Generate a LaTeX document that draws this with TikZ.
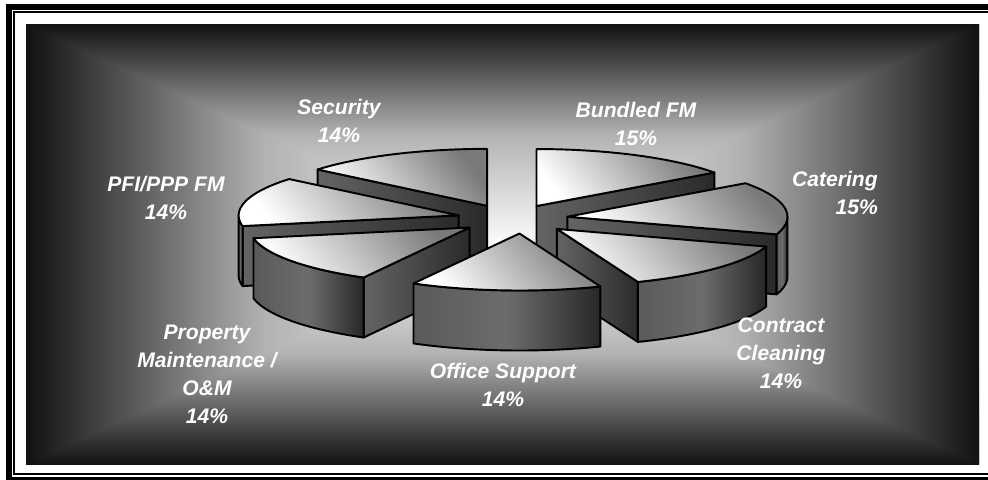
\documentclass[tikz,border=0pt]{standalone}
\usepackage{fontspec}
\setmainfont{Liberation Sans}
\definecolor{bgedge}{HTML}{111111}
\definecolor{bgmid}{HTML}{B2B2B2}
\definecolor{bgcentre}{HTML}{FCFCFC}
\definecolor{topdark}{HTML}{7A7A7A}
\definecolor{walllight}{HTML}{6C6C6C}
\definecolor{wallmid}{HTML}{5A5A5A}
\definecolor{walldark}{HTML}{272727}
\definecolor{sidelight}{HTML}{646464}
\definecolor{sidedark}{HTML}{2A2A2A}

% pie geometry (pixel units, y pointing down)
\def\pcx{511}\def\pcy{219}
\def\pra{220}\def\prb{57}
\def\pex{0.255}\def\ph{60}

% one exploded slice: start and end angle (clockwise from 12 o'clock),
% name of its corner, sideways nudge of the slice
\newcommand\pieslice[4]{%
  \pgfmathsetmacro\pmid{(#1+#2)/2}%
  \pgfmathsetmacro\pox{\pcx+#4+\pex*\pra*sin(\pmid)}%
  \pgfmathsetmacro\poy{\pcy-\pex*\prb*cos(\pmid)}%
  \coordinate (#3) at (\pox,\poy);
  % cut face at the start angle
  \pgfmathtruncatemacro\pvis{sin(#1)<-0.001}%
  \ifnum\pvis=1
    \shade[sideface] (#3) -- ({\pox+\pra*sin(#1)},{\poy-\prb*cos(#1)})
      -- ++(0,\ph) -- (\pox,{\poy+\ph}) -- cycle;
  \fi
  % cut face at the end angle
  \pgfmathtruncatemacro\pvis{sin(#2)>0.001}%
  \ifnum\pvis=1
    \shade[sideface] (#3) -- ({\pox+\pra*sin(#2)},{\poy-\prb*cos(#2)})
      -- ++(0,\ph) -- (\pox,{\poy+\ph}) -- cycle;
  \fi
  % front part of the rim
  \pgfmathsetmacro\pua{max(#1,90)}%
  \pgfmathsetmacro\pub{min(#2,270)}%
  \pgfmathtruncatemacro\pvis{\pub-\pua>0.5}%
  \ifnum\pvis=1
    \shade[wall] plot[variable=\t,domain=\pua:\pub,samples=40]
        ({\pox+\pra*sin(\t)},{\poy-\prb*cos(\t)})
      -- plot[variable=\t,domain=\pub:\pua,samples=40]
        ({\pox+\pra*sin(\t)},{\poy+\ph-\prb*cos(\t)}) -- cycle;
  \fi
  % top face
  \shade[topface] (#3) -- plot[variable=\t,domain=#1:#2,samples=50]
      ({\pox+\pra*sin(\t)},{\poy-\prb*cos(\t)}) -- cycle;
}

\begin{document}
\begin{tikzpicture}[x=0.02cm,y=-0.02cm,
  edge/.style={draw=black,line width=1.1pt,line join=round},
  topface/.style={edge,top color=topdark,bottom color=white,shading angle=-50},
  wall/.style={edge,left color=wallmid,right color=walldark,middle color=walllight},
  sideface/.style={edge,left color=sidelight,right color=sidedark},
  lbl/.style={text=white,font=\fontsize{12}{15.9}\selectfont\bfseries\itshape,
    align=center,inner sep=0pt}]
\useasboundingbox (0,0) rectangle (988,480);
\clip (0,0) rectangle (988,480);
\fill[white] (0,0) rectangle (988,480);

% double frame
\draw[line width=3.4pt] (9,7) rectangle (1000,480);
\draw[line width=1.13pt] (14,12) rectangle (995,474);

% rectangular gradient panel: two halves, then the side wedges on top
\coordinate (mid) at (502.5,244);
\shade[top color=bgedge,bottom color=bgcentre,middle color=bgmid]
  (26,24) rectangle (979,244.5);
\shade[top color=bgcentre,bottom color=bgedge,middle color=bgmid]
  (26,243.5) rectangle (979,464);
\shade[left color=bgedge,right color=bgcentre,middle color=bgmid]
  (26,24) -- (26,464) -- (mid) -- cycle;
\shade[left color=bgcentre,right color=bgedge,middle color=bgmid]
  (979,24) -- (979,464) -- (mid) -- cycle;

% slices, back to front
\pieslice{309.6}{360}{sec}{0}
\pieslice{0}{54}{bfm}{0}
\pieslice{259.2}{309.6}{pfi}{2}
\pieslice{54}{108}{cat}{1}
\pieslice{208.8}{259.2}{prop}{4}
\pieslice{108}{158.4}{clean}{5}
\pieslice{158.4}{208.8}{office}{12}

% labels
\node[lbl] (lsec) at (339,121) {Security\\14\%};
\node[lbl] (lbfm) at (636,124) {Bundled FM\\15\%};
\node[lbl] (lpfi) at (166,198) {PFI/PPP FM\\14\%};
\node[lbl,align=right] (lcat) at (835,193) {Catering\\15\%};
\node[lbl] (lclean) at (781,353) {Contract\\Cleaning\\14\%};
\node[lbl] (lprop) at (207,374) {Property\\Maintenance /\\O\&M\\14\%};
\node[lbl] (loffice) at (503,385) {Office Support\\14\%};
\end{tikzpicture}
\end{document}
